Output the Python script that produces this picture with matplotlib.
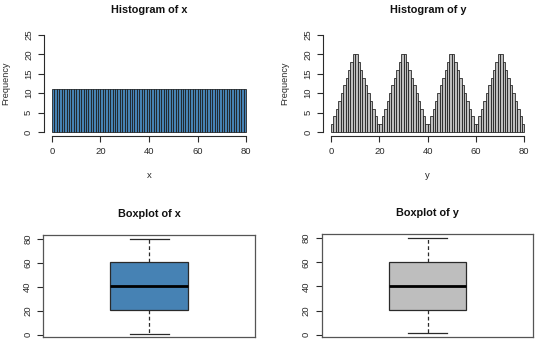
import numpy as np
import matplotlib
matplotlib.use("Agg")
import matplotlib.pyplot as plt

plt.rcParams["font.family"] = ["Liberation Sans", "DejaVu Sans"]

# histogram counts, one bin per unit from 0 to 80
bin_edges = list(range(0, 81))

x_counts = [
    11, 11, 11, 11, 11, 11, 11, 11, 11, 11, 11, 11, 11, 11, 11, 11, 11, 11, 11, 11,
    11, 11, 11, 11, 11, 11, 11, 11, 11, 11, 11, 11, 11, 11, 11, 11, 11, 11, 11, 11,
    11, 11, 11, 11, 11, 11, 11, 11, 11, 11, 11, 11, 11, 11, 11, 11, 11, 11, 11, 11,
    11, 11, 11, 11, 11, 11, 11, 11, 11, 11, 11, 11, 11, 11, 11, 11, 11, 11, 11, 11,
]

y_counts = [
    2, 4, 6, 8, 10, 12, 14, 16, 18, 20, 20, 18, 16, 14, 12, 10, 8, 6, 4, 2,
    2, 4, 6, 8, 10, 12, 14, 16, 18, 20, 20, 18, 16, 14, 12, 10, 8, 6, 4, 2,
    2, 4, 6, 8, 10, 12, 14, 16, 18, 20, 20, 18, 16, 14, 12, 10, 8, 6, 4, 2,
    2, 4, 6, 8, 10, 12, 14, 16, 18, 20, 20, 18, 16, 14, 12, 10, 8, 6, 4, 2,
]

# five-number summaries: min, q1, median, q3, max
x_box = [1, 20.5, 40.5, 60.5, 80]
y_box = [1, 20.5, 40.5, 60.5, 80]

hist_yticks = [0, 5, 10, 15, 20, 25]
hist_xticks = [0, 20, 40, 60, 80]
box_yticks = [0, 20, 40, 60, 80]

ink = "#2a2a2a"
W, H = 540, 350

fig = plt.figure(figsize=(5.4, 3.5), dpi=100)


def px_axes(left, top, right, bottom):
    return fig.add_axes([left / W, 1 - bottom / H, (right - left) / W, (bottom - top) / H])


def style_ticks(ax):
    ax.tick_params(axis="both", length=4, width=0.8, color=ink, labelcolor=ink,
                   labelsize=6.8, pad=4)
    for lab in ax.get_yticklabels():
        lab.set_rotation(90)
        lab.set_va("center")


def hist_panel(ax, counts, color, title, xlabel):
    ax.bar(bin_edges[:-1], counts, width=1, align="edge", color=color,
           edgecolor="#1a1a1a", linewidth=0.55)
    ax.set_xlim(-3.2, 83.2)
    ax.set_ylim(-1, 26)
    ax.set_xticks(hist_xticks)
    ax.set_yticks(hist_yticks)
    for side in ["top", "right"]:
        ax.spines[side].set_visible(False)
    ax.spines["left"].set_bounds(0, 25)
    ax.spines["bottom"].set_bounds(0, 80)
    for side in ["left", "bottom"]:
        ax.spines[side].set_color(ink)
        ax.spines[side].set_linewidth(0.8)
    style_ticks(ax)
    ax.set_title(title, fontsize=7.8, fontweight="bold", color="#111111", pad=13)
    ax.set_xlabel(xlabel, fontsize=6.8, color=ink, labelpad=11)
    ax.set_ylabel("Frequency", fontsize=6.6, color=ink, labelpad=10)


def box_panel(ax, summary, color, title):
    stats = [{
        "whislo": summary[0], "q1": summary[1], "med": summary[2],
        "q3": summary[3], "whishi": summary[4], "fliers": [],
    }]
    ax.bxp(stats, positions=[1], widths=0.367, patch_artist=True, showfliers=False,
           boxprops=dict(facecolor=color, edgecolor=ink, linewidth=0.9),
           medianprops=dict(color="black", linewidth=2.0),
           whiskerprops=dict(color=ink, linewidth=0.9, linestyle=(0, (3, 2))),
           capprops=dict(color=ink, linewidth=0.9))
    ax.set_xlim(0.5, 1.5)
    ax.set_ylim(-2.16, 83.16)
    ax.set_xticks([])
    ax.set_yticks(box_yticks)
    for side in ax.spines.values():
        side.set_color("#555555")
        side.set_linewidth(0.9)
    style_ticks(ax)
    ax.set_title(title, fontsize=7.8, fontweight="bold", color="#111111", pad=13)


ax1 = px_axes(44.2, 31.1, 253.8, 135.9)
hist_panel(ax1, x_counts, "#4682B4", "Histogram of x", "x")

ax2 = px_axes(323.3, 31.1, 532.1, 135.9)
hist_panel(ax2, y_counts, "#BEBEBE", "Histogram of y", "y")

ax3 = px_axes(43.3, 235, 255, 337.3)
box_panel(ax3, x_box, "#4682B4", "Boxplot of x")

ax4 = px_axes(321.7, 234.3, 533.3, 337.3)
box_panel(ax4, y_box, "#BEBEBE", "Boxplot of y")

fig.savefig("out.png", dpi=100, facecolor="white")
